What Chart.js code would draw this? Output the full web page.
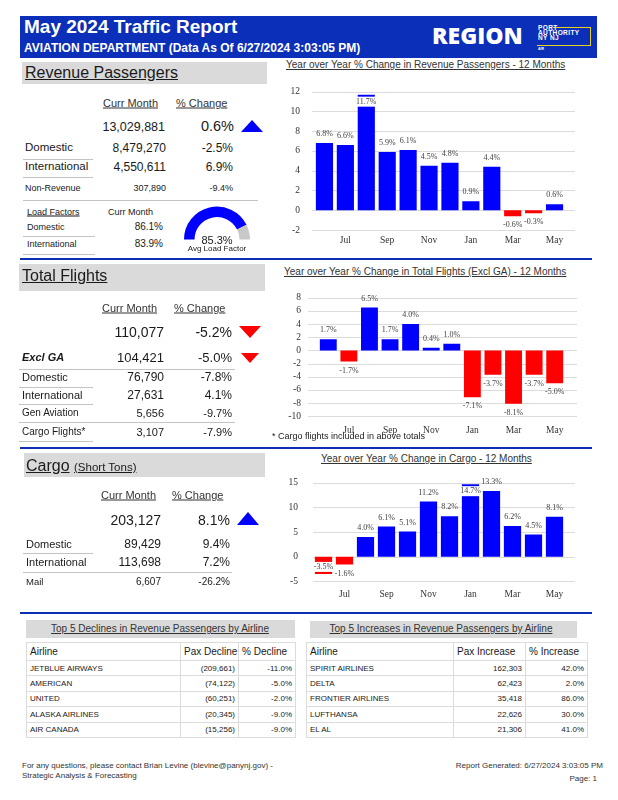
<!DOCTYPE html>
<html><head><meta charset="utf-8">
<script src="https://cdn.jsdelivr.net/npm/chart.js@4.4.1/dist/chart.umd.min.js"></script>
<style>
html,body{margin:0;padding:0;background:#fff;}
body{width:618px;height:800px;position:relative;overflow:hidden;font-family:"Liberation Sans",Arial,sans-serif;color:#1a1a1a;}
.t{position:absolute;line-height:1;white-space:nowrap;transform:translateY(-50%);}
.r{transform:translate(-100%,-50%);}
.c{transform:translate(-50%,-50%);}
.u{text-decoration:underline;}
.b{position:absolute;}
.gray{background:#dadada;}
.bl{position:absolute;background:#0b2fb5;height:2px;}
.hl{position:absolute;background:#c4c4c4;height:1px;}
.tri-up{position:absolute;width:0;height:0;border-left:11px solid transparent;border-right:11px solid transparent;border-bottom:12px solid #0000ff;}
.tri-dn{position:absolute;width:0;height:0;border-left:11px solid transparent;border-right:11px solid transparent;border-top:12px solid #ff0000;}
canvas{position:absolute;}
table{position:absolute;border-collapse:collapse;table-layout:fixed;background:#fff;}
td{border:1px solid #dcdcdc;padding:0 3px;white-space:nowrap;overflow:hidden;}
td.n{text-align:right;}
tr.h td{height:17px;font-size:10px;}
tr.d td{height:14.4px;font-size:8px;}
</style></head><body>

<!-- header -->
<div class="b" style="left:20px;top:16px;width:577px;height:42px;background:#0b2fb8;"></div>
<div class="t" style="left:24px;top:26px;font-size:19px;font-weight:bold;color:#fff;">May 2024 Traffic Report</div>
<div class="t" style="left:24px;top:48px;font-size:12px;font-weight:bold;color:#fff;">AVIATION DEPARTMENT (Data As Of 6/27/2024 3:03:05 PM)</div>
<div class="t" style="left:432px;top:35px;font-size:23px;font-weight:800;color:#fff;font-family:'Open Sans',sans-serif;">REGION</div>
<div class="b" style="left:553px;top:27px;width:37px;height:18px;border-top:1px solid #e8d21d;border-right:1px solid #e8d21d;"></div>
<div class="b" style="left:537px;top:45px;width:54px;height:0;border-top:1px solid #e8d21d;"></div>
<div class="b" style="left:538px;top:25px;font-size:6.5px;line-height:5px;font-weight:bold;color:#fff;letter-spacing:0.4px;">PORT<br>AUTHORITY<br>NY NJ</div>
<div class="b" style="left:538px;top:48px;font-size:3.5px;line-height:3px;font-weight:bold;color:#fff;">AIR</div>

<!-- Revenue Passengers -->
<div class="b gray" style="left:22px;top:62px;width:245px;height:22px;"></div>
<div class="t u" style="left:25px;top:73px;font-size:16px;">Revenue Passengers</div>
<div class="t u" style="left:103px;top:103px;font-size:11px;color:#333;">Curr Month</div>
<div class="t u" style="left:176px;top:103px;font-size:11px;color:#333;">% Change</div>
<div class="t r" style="left:165px;top:127px;font-size:12.5px;">13,029,881</div>
<div class="t r" style="left:234px;top:126px;font-size:14.5px;">0.6%</div>
<div class="tri-up" style="left:241px;top:120px;"></div>
<div class="t" style="left:25px;top:148px;font-size:11.5px;">Domestic</div>
<div class="t r" style="left:166px;top:148px;font-size:12px;">8,479,270</div>
<div class="t r" style="left:233px;top:148px;font-size:12px;">-2.5%</div>
<div class="hl" style="left:23px;top:159px;width:70px;"></div>
<div class="t" style="left:25px;top:167px;font-size:11.5px;">International</div>
<div class="t r" style="left:166px;top:167px;font-size:12px;">4,550,611</div>
<div class="t r" style="left:233px;top:167px;font-size:12px;">6.9%</div>
<div class="hl" style="left:23px;top:177px;width:70px;"></div>
<div class="t" style="left:25px;top:188px;font-size:9px;">Non-Revenue</div>
<div class="t r" style="left:166px;top:188px;font-size:9px;">307,890</div>
<div class="t r" style="left:233px;top:188px;font-size:9px;">-9.4%</div>
<div class="hl" style="left:23px;top:200px;width:235px;"></div>
<div class="t u" style="left:27px;top:212px;font-size:9px;">Load Factors</div>
<div class="t" style="left:108px;top:212px;font-size:9px;">Curr Month</div>
<div class="t" style="left:27px;top:227px;font-size:9px;">Domestic</div>
<div class="t r" style="left:163px;top:227px;font-size:10px;">86.1%</div>
<div class="hl" style="left:23px;top:236px;width:72px;"></div>
<div class="t" style="left:27px;top:244px;font-size:9px;">International</div>
<div class="t r" style="left:163px;top:244px;font-size:10px;">83.9%</div>
<div class="hl" style="left:23px;top:254px;width:72px;"></div>
<canvas id="gauge" width="66" height="34" style="left:184px;top:206px;width:66px;height:34px;"></canvas>
<div class="t c" style="left:217px;top:240px;font-size:11px;">85.3%</div>
<div class="t c" style="left:217px;top:249px;font-size:8px;">Avg Load Factor</div>

<div class="bl" style="left:20px;top:258px;width:572px;"></div>

<!-- Total Flights -->
<div class="b gray" style="left:19px;top:264px;width:246px;height:27px;"></div>
<div class="t u" style="left:22px;top:276px;font-size:16px;">Total Flights</div>
<div class="t u" style="left:102px;top:308px;font-size:11px;color:#333;">Curr Month</div>
<div class="t u" style="left:174px;top:308px;font-size:11px;color:#333;">% Change</div>
<div class="t r" style="left:164px;top:332px;font-size:14px;">110,077</div>
<div class="t r" style="left:232px;top:332px;font-size:14px;">-5.2%</div>
<div class="tri-dn" style="left:239px;top:326px;"></div>
<div class="t" style="left:22px;top:357px;font-size:11px;font-weight:bold;font-style:italic;">Excl GA</div>
<div class="t r" style="left:164px;top:357px;font-size:13px;">104,421</div>
<div class="t r" style="left:232px;top:357px;font-size:13px;">-5.0%</div>
<div class="tri-dn" style="left:241px;top:353px;border-left-width:9px;border-right-width:9px;border-top-width:10px;"></div>
<div class="hl" style="left:19px;top:369px;width:216px;"></div>
<div class="t" style="left:22px;top:377px;font-size:11px;">Domestic</div>
<div class="t r" style="left:164px;top:377px;font-size:12px;">76,790</div>
<div class="t r" style="left:232px;top:377px;font-size:12px;">-7.8%</div>
<div class="hl" style="left:19px;top:387px;width:74px;"></div>
<div class="t" style="left:22px;top:395px;font-size:11px;">International</div>
<div class="t r" style="left:164px;top:395px;font-size:12px;">27,631</div>
<div class="t r" style="left:232px;top:395px;font-size:12px;">4.1%</div>
<div class="hl" style="left:19px;top:404px;width:74px;"></div>
<div class="t" style="left:22px;top:413px;font-size:10px;">Gen Aviation</div>
<div class="t r" style="left:164px;top:413px;font-size:11px;">5,656</div>
<div class="t r" style="left:232px;top:413px;font-size:11px;">-9.7%</div>
<div class="hl" style="left:19px;top:422px;width:216px;"></div>
<div class="t" style="left:22px;top:432px;font-size:10px;">Cargo Flights*</div>
<div class="t r" style="left:164px;top:432px;font-size:11px;">3,107</div>
<div class="t r" style="left:232px;top:432px;font-size:11px;">-7.9%</div>
<div class="hl" style="left:19px;top:441px;width:74px;"></div>

<div class="bl" style="left:20px;top:447px;width:572px;"></div>

<!-- Cargo -->
<div class="b gray" style="left:24px;top:453px;width:241px;height:24px;"></div>
<div class="t" style="left:26px;top:466px;font-size:16px;"><span class="u">Cargo</span> <span class="u" style="font-size:11.5px;">(Short Tons)</span></div>
<div class="t u" style="left:101px;top:495px;font-size:11px;color:#333;">Curr Month</div>
<div class="t u" style="left:172px;top:495px;font-size:11px;color:#333;">% Change</div>
<div class="t r" style="left:161px;top:520px;font-size:14px;">203,127</div>
<div class="t r" style="left:230px;top:520px;font-size:14px;">8.1%</div>
<div class="tri-up" style="left:237px;top:512px;border-bottom-width:13px;"></div>
<div class="t" style="left:26px;top:544px;font-size:11px;">Domestic</div>
<div class="t r" style="left:161px;top:544px;font-size:12px;">89,429</div>
<div class="t r" style="left:230px;top:544px;font-size:12px;">9.4%</div>
<div class="hl" style="left:23px;top:553px;width:70px;"></div>
<div class="t" style="left:26px;top:562px;font-size:11px;">International</div>
<div class="t r" style="left:161px;top:562px;font-size:12px;">113,698</div>
<div class="t r" style="left:230px;top:562px;font-size:12px;">7.2%</div>
<div class="hl" style="left:23px;top:572px;width:209px;"></div>
<div class="t" style="left:26px;top:582px;font-size:9.5px;">Mail</div>
<div class="t r" style="left:161px;top:582px;font-size:10px;">6,607</div>
<div class="t r" style="left:230px;top:582px;font-size:10px;">-26.2%</div>

<div class="bl" style="left:20px;top:612px;width:572px;"></div>

<!-- Chart titles -->
<div class="t u" style="left:286px;top:65px;font-size:10px;color:#333;">Year over Year % Change in Revenue Passengers - 12 Months</div>
<div class="t u" style="left:284px;top:272px;font-size:10px;color:#333;">Year over Year % Change in Total Flights (Excl GA) - 12 Months</div>
<div class="t u" style="left:321px;top:459px;font-size:10px;color:#333;">Year over Year % Change in Cargo - 12 Months</div>

<canvas id="paxChart" width="310" height="178" style="left:270px;top:72px;width:310px;height:178px;"></canvas>
<canvas id="fltChart" width="310" height="164" style="left:270px;top:275px;width:310px;height:164px;"></canvas>
<canvas id="cgoChart" width="310" height="140" style="left:270px;top:462px;width:310px;height:140px;"></canvas>
<div class="t" style="left:272px;top:436px;font-size:9px;">* Cargo flights included in above totals</div>

<!-- Tables -->
<div class="b gray" style="left:26px;top:620px;width:269px;height:18px;"></div>
<div class="t c u" style="left:160px;top:629px;font-size:10px;color:#333;">Top 5 Declines in Revenue Passengers by Airline</div>
<div class="b gray" style="left:310px;top:621px;width:267px;height:17px;"></div>
<div class="t c u" style="left:441px;top:629px;font-size:10px;color:#333;">Top 5 Increases in Revenue Passengers by Airline</div>
<table id="declTable" style="left:26px;top:642px;width:269px;"></table>
<table id="incrTable" style="left:306px;top:642px;width:281px;"></table>

<!-- Footer -->
<div class="t" style="left:22px;top:766px;font-size:8px;color:#333;">For any questions, please contact Brian Levine (blevine@panynj.gov) -</div>
<div class="t" style="left:22px;top:776px;font-size:8px;color:#333;">Strategic Analysis &amp; Forecasting</div>
<div class="t r" style="left:603px;top:766px;font-size:8px;color:#333;">Report Generated: 6/27/2024 3:03:05 PM</div>
<div class="t r" style="left:597px;top:779px;font-size:8px;color:#333;">Page: 1</div>

<script>
const months = ['Jun','Jul','Aug','Sep','Oct','Nov','Dec','Jan','Feb','Mar','Apr','May'];
const paxChange = [6.8, 6.6, 11.7, 5.9, 6.1, 4.5, 4.8, 0.9, 4.4, -0.6, -0.3, 0.6];
const flightChange = [1.7, -1.7, 6.5, 1.7, 4.0, 0.4, 1.0, -7.1, -3.7, -8.1, -3.7, -5.0];
const cargoChange = [-3.5, -1.6, 4.0, 6.1, 5.1, 11.2, 8.2, 14.7, 13.3, 6.2, 4.5, 8.1];
const avgLoadFactor = 85.3;

const declAirlines = ['JETBLUE AIRWAYS','AMERICAN','UNITED','ALASKA AIRLINES','AIR CANADA'];
const declPax = ['(209,661)','(74,122)','(60,251)','(20,345)','(15,256)'];
const declPct = ['-11.0%','-5.0%','-2.0%','-9.0%','-9.0%'];
const incrAirlines = ['SPIRIT AIRLINES','DELTA','FRONTIER AIRLINES','LUFTHANSA','EL AL'];
const incrPax = ['162,303','62,423','35,418','22,626','21,306'];
const incrPct = ['42.0%','2.0%','86.0%','30.0%','41.0%'];

const BLUE = '#0000ff', RED = '#ff0000';
const SERIF = '"Liberation Serif","Times New Roman",serif';

function buildTable(id, widths, head, a, b, c) {
  const t = document.getElementById(id);
  let html = '<colgroup>' + widths.map(w => '<col style="width:' + w + 'px">').join('') + '</colgroup>';
  html += '<tr class="h"><td>' + head[0] + '</td><td>' + head[1] + '</td><td>' + head[2] + '</td></tr>';
  for (let i = 0; i < a.length; i++) {
    html += '<tr class="d"><td>' + a[i] + '</td><td class="n">' + b[i] + '</td><td class="n">' + c[i] + '</td></tr>';
  }
  t.innerHTML = html;
}
buildTable('declTable', [154, 58, 57], ['Airline', 'Pax Decline', '% Decline'], declAirlines, declPax, declPct);
buildTable('incrTable', [147, 72, 62], ['Airline', 'Pax Increase', '% Increase'], incrAirlines, incrPax, incrPct);

// horizontal gridlines drawn from the y scale's ticks, slightly wider than the bar area
const wideGrid = {
  id: 'wideGrid',
  beforeDatasetsDraw(chart, args, opts) {
    const { ctx, chartArea, scales } = chart;
    const y = scales.y;
    ctx.save();
    ctx.strokeStyle = '#dcdcdc';
    ctx.lineWidth = 1;
    y.ticks.forEach(t => {
      const py = Math.round(y.getPixelForValue(t.value)) + 0.5;
      ctx.beginPath();
      ctx.moveTo(chartArea.left - opts.extL, py);
      ctx.lineTo(chartArea.right + opts.extR, py);
      ctx.stroke();
    });
    ctx.restore();
  }
};

const valueLabels = {
  id: 'valueLabels',
  afterDatasetsDraw(chart) {
    const { ctx, chartArea } = chart;
    const meta = chart.getDatasetMeta(0);
    const vals = chart.data.datasets[0].data;
    ctx.save();
    ctx.font = '8px ' + SERIF;
    ctx.textAlign = 'center';
    ctx.textBaseline = 'middle';
    meta.data.forEach((bar, i) => {
      const v = vals[i];
      const pos = v >= 0;
      let y = pos ? bar.y - 9 : bar.y + 9;
      const inside = pos ? (y < chartArea.top - 3) : (y > chartArea.bottom - 2);
      if (inside) {
        const w = bar.width;
        const y0 = pos ? bar.y + 2 : bar.y - 12;
        ctx.fillStyle = '#fff';
        ctx.fillRect(bar.x - w / 2 - 1, y0, w + 2, 10);
        y = pos ? bar.y + 7 : bar.y - 7;
      }
      ctx.fillStyle = '#404040';
      ctx.fillText(v.toFixed(1) + '%', bar.x, y);
    });
    ctx.restore();
  }
};

function makeBar(id, data, cfg) {
  return new Chart(document.getElementById(id), {
    type: 'bar',
    data: {
      labels: months,
      datasets: [{
        data: data,
        backgroundColor: data.map(v => v >= 0 ? BLUE : RED),
        borderWidth: 0,
        barPercentage: 0.82,
        categoryPercentage: 1.0
      }]
    },
    options: {
      responsive: false,
      animation: false,
      layout: { padding: { top: 0, right: cfg.padRight, left: 0, bottom: 0 } },
      plugins: {
        legend: { display: false }, tooltip: { enabled: false },
        wideGrid: { extL: cfg.extL, extR: cfg.extR }
      },
      scales: {
        x: {
          grid: { display: false, drawTicks: false },
          border: { display: false },
          ticks: {
            autoSkip: false, maxRotation: 0, padding: cfg.xPad,
            font: { family: SERIF, size: 9.5 }, color: '#333',
            callback: (v, i) => (i % 2 === 1 ? months[i] : '')
          },
          afterFit(s) { s.height = 20; }
        },
        y: {
          min: cfg.min, max: cfg.max,
          ticks: { stepSize: cfg.step, padding: cfg.yPad, font: { family: SERIF, size: 9.5 }, color: '#333' },
          grid: { display: false, drawTicks: false },
          border: { display: false },
          afterFit(s) { s.width = cfg.yw; }
        }
      }
    },
    plugins: [wideGrid, valueLabels]
  });
}

makeBar('paxChart', paxChange, { min: -2, max: 12, step: 2, yw: 44, yPad: 14, xPad: 5, padRight: 15, extL: 2, extR: 10 });
makeBar('fltChart', flightChange, { min: -10, max: 8, step: 2, yw: 48, yPad: 17, xPad: 8, padRight: 15, extL: 10, extR: 12 });
makeBar('cgoChart', cargoChange, { min: -5, max: 15, step: 5, yw: 43, yPad: 15, xPad: 7, padRight: 15, extL: 0, extR: 10 });

new Chart(document.getElementById('gauge'), {
  type: 'doughnut',
  data: { datasets: [{ data: [avgLoadFactor, 100 - avgLoadFactor], backgroundColor: [BLUE, '#c8c8c8'], borderWidth: 0 }] },
  options: {
    responsive: false, animation: false,
    rotation: -90, circumference: 180, cutout: '68%',
    plugins: { legend: { display: false }, tooltip: { enabled: false } }
  }
});
</script>
</body></html>
